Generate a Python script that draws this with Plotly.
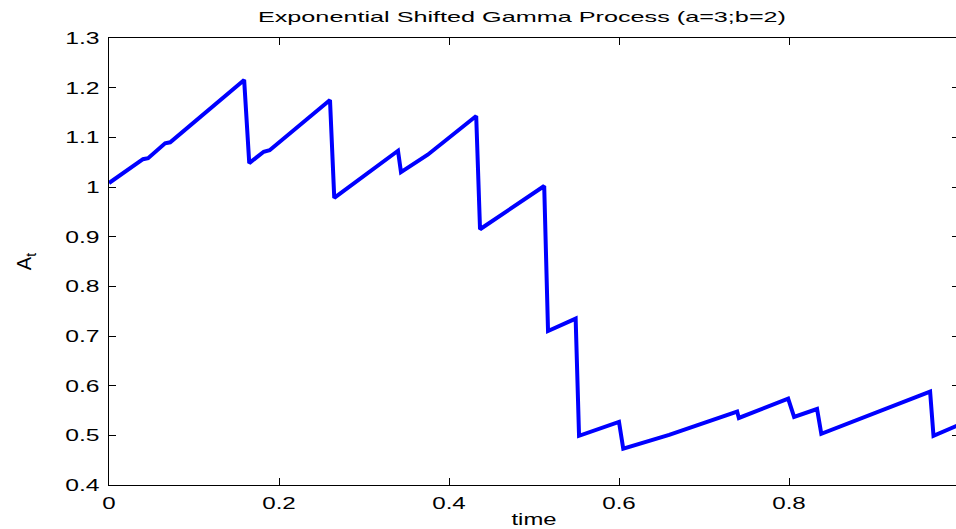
import plotly.graph_objects as go

# Sample path of the exponential shifted gamma process
time = [0, 0.040, 0.046, 0.066, 0.072, 0.159, 0.165, 0.182, 0.189, 0.26,
        0.265, 0.34, 0.3435, 0.375, 0.432, 0.4365, 0.512, 0.5165, 0.549,
        0.553, 0.600, 0.605, 0.659, 0.739, 0.741, 0.799, 0.806, 0.833,
        0.838, 0.966, 0.970, 1.0]
A_t = [1.008, 1.056, 1.058, 1.088, 1.090, 1.2155, 1.048, 1.071, 1.074, 1.175,
       0.978, 1.073, 1.030, 1.065, 1.143, 0.915, 1.002, 0.710, 0.735,
       0.499, 0.527, 0.473, 0.501, 0.548, 0.535, 0.574, 0.537, 0.553,
       0.503, 0.588, 0.499, 0.521]

x_ticks = [0, 0.2, 0.4, 0.6, 0.8, 1]
x_labels = ["0", "0.2", "0.4", "0.6", "0.8", "1"]
y_ticks = [0.4, 0.5, 0.6, 0.7, 0.8, 0.9, 1.0, 1.1, 1.2, 1.3]
y_labels = ["0.4", "0.5", "0.6", "0.7", "0.8", "0.9", "1", "1.1", "1.2", "1.3"]

font = "Liberation Sans, Arial, Helvetica, sans-serif"

fig = go.Figure()
fig.add_trace(go.Scatter(x=time, y=A_t, mode="lines",
                         line=dict(color="#0000FF", width=4),
                         showlegend=False))

axis_common = dict(showline=True, linecolor="black", linewidth=1,
                   mirror="ticks", ticks="inside", ticklen=7,
                   tickcolor="black", showgrid=False, zeroline=False,
                   automargin=False,
                   tickfont=dict(family=font, size=17, color="black"))

fig.update_layout(
    width=962, height=529,
    margin=dict(l=109, r=3, t=38, b=44),
    paper_bgcolor="white", plot_bgcolor="white",
    title=dict(text="Exponential Shifted Gamma Process (a=3;b=2)",
               x=522 / 962, xanchor="center",
               y=1 - 16.5 / 529, yanchor="middle",
               font=dict(family=font, size=15, color="black")),
    xaxis=dict(range=[0, 1], tickvals=x_ticks, ticktext=x_labels,
               ticklabelstandoff=3,
               title=dict(text="time", standoff=6,
                          font=dict(family=font, size=17, color="black")),
               **axis_common),
    yaxis=dict(range=[0.4, 1.3], tickvals=y_ticks, ticktext=y_labels,
               ticklabelstandoff=5,
               title=dict(text="A<sub>t</sub>", standoff=38,
                          font=dict(family=font, size=20, color="black")),
               **axis_common),
)

# Widen the horizontal text glyphs (wide, stretched lettering)
stretch_js = """
var gd = document.getElementById('{plot_id}');
function widen(sel, k) {
  gd.querySelectorAll(sel).forEach(function (t) {
    var w = t.getComputedTextLength();
    if (w > 0) {
      t.setAttribute('textLength', (w * k).toFixed(1));
      t.setAttribute('lengthAdjust', 'spacingAndGlyphs');
    }
  });
}
widen('.gtitle', 1.68);
widen('.xtick text', 1.42);
widen('.ytick text', 1.45);
widen('.xtitle', 1.4);
document.documentElement.style.overflow = 'hidden';
document.body.style.overflow = 'hidden';
"""

fig.write_html("out.html", post_script=stretch_js)
